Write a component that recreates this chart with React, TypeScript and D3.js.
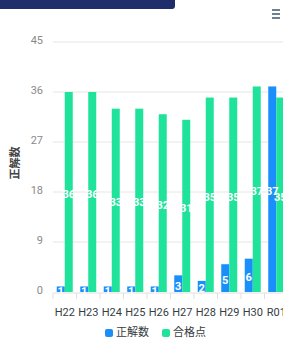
import { useEffect, useRef } from 'react';
import * as d3 from 'd3';

const categories = ['H22', 'H23', 'H24', 'H25', 'H26', 'H27', 'H28', 'H29', 'H30', 'R01'];
const correctCounts = [1, 1, 1, 1, 1, 3, 2, 5, 6, 37];
const passingScores = [36, 36, 33, 33, 32, 31, 35, 35, 37, 35];
const yTicks = [0, 9, 18, 27, 36, 45];
const seriesNames = ['正解数', '合格点'];
const seriesColors = ['#1a8ffb', '#1fe39a'];

const FONT = 'Roboto, "Noto Sans CJK JP", sans-serif';

const App = () => {
  const svgRef = useRef<SVGSVGElement>(null);

  useEffect(() => {
    if (!svgRef.current) return;
    const svg = d3.select(svgRef.current);
    svg.selectAll('*').remove();

    const width = 283;
    const height = 342;
    const plotLeft = 53;
    const step = 23.5;
    const plotTop = 42;
    const plotBottom = 292;

    svg.attr('width', width).attr('height', height).style('font-family', FONT);

    // navy box edge at the top (cropped)
    svg.append('rect')
      .attr('x', -10).attr('y', -10)
      .attr('width', 185).attr('height', 19)
      .attr('rx', 3)
      .attr('fill', '#1f2d6b');

    // menu icon
    [10, 14, 18].forEach(yy => {
      svg.append('rect')
        .attr('x', 272).attr('y', yy - 1)
        .attr('width', 8).attr('height', 2)
        .attr('fill', '#6e8192');
    });

    const x = d3.scaleBand()
      .domain(categories)
      .range([plotLeft, plotLeft + step * categories.length])
      .padding(0);

    const y = d3.scaleLinear().domain([0, 45]).range([plotBottom, plotTop]);

    // grid
    svg.append('g')
      .selectAll('line')
      .data(yTicks.filter(t => t > 0))
      .enter()
      .append('line')
      .attr('x1', plotLeft)
      .attr('x2', width + 20)
      .attr('y1', d => y(d))
      .attr('y2', d => y(d))
      .attr('stroke', '#e6e6e6')
      .attr('stroke-width', 1);

    // y labels
    svg.append('g')
      .selectAll('text')
      .data(yTicks)
      .enter()
      .append('text')
      .attr('x', 43)
      .attr('y', d => y(d) - 1)
      .attr('text-anchor', 'end')
      .attr('dominant-baseline', 'middle')
      .attr('font-size', 11)
      .attr('fill', '#8a8a8a')
      .text(d => d);

    // y title
    svg.append('text')
      .attr('transform', `translate(16,${(plotTop + plotBottom) / 2 - 4}) rotate(-90)`)
      .attr('text-anchor', 'middle')
      .attr('dominant-baseline', 'middle')
      .attr('font-size', 11)
      .attr('font-weight', 'bold')
      .attr('fill', '#444')
      .text(seriesNames[0]);

    // x axis
    const axisY = plotBottom + 1;
    svg.append('line')
      .attr('x1', plotLeft).attr('x2', width + 20)
      .attr('y1', axisY).attr('y2', axisY)
      .attr('stroke', '#e0e0e0');
    svg.append('g')
      .selectAll('line')
      .data(categories)
      .enter()
      .append('line')
      .attr('x1', d => x(d) || 0)
      .attr('x2', d => x(d) || 0)
      .attr('y1', axisY)
      .attr('y2', axisY + 6)
      .attr('stroke', '#e0e0e0');

    svg.append('g')
      .selectAll('text')
      .data(categories)
      .enter()
      .append('text')
      .attr('x', d => (x(d) || 0) + x.bandwidth() / 2)
      .attr('y', 313)
      .attr('text-anchor', 'middle')
      .attr('dominant-baseline', 'middle')
      .attr('font-size', 11)
      .attr('fill', '#373d3f')
      .text(d => d);

    // bars
    const barW = 8;
    const groupOffset = (x.bandwidth() - barW * 2) / 2;
    const series = [correctCounts, passingScores];

    series.forEach((values, si) => {
      const rows = categories.map((c, i) => ({ c, v: values[i] }));
      const bx = (c: string) => (x(c) || 0) + groupOffset + si * barW;

      svg.append('g')
        .selectAll('rect')
        .data(rows)
        .enter()
        .append('rect')
        .attr('x', d => bx(d.c))
        .attr('y', d => y(d.v))
        .attr('width', barW)
        .attr('height', d => plotBottom - y(d.v))
        .attr('fill', seriesColors[si]);
    });

    series.forEach((values, si) => {
      const rows = categories.map((c, i) => ({ c, v: values[i] }));
      const bx = (c: string) => (x(c) || 0) + groupOffset + si * barW;

      svg.append('g')
        .selectAll('text')
        .data(rows)
        .enter()
        .append('text')
        .attr('x', d => bx(d.c) + barW / 2)
        .attr('y', d => (y(d.v) + plotBottom) / 2 + 3)
        .attr('text-anchor', 'middle')
        .attr('dominant-baseline', 'middle')
        .attr('font-size', 11)
        .attr('font-weight', 'bold')
        .attr('fill', '#fff')
        .text(d => d.v);
    });

    // legend
    const legend = svg.append('g');
    const legendItems = [
      { name: seriesNames[0], color: seriesColors[0], x: 105 },
      { name: seriesNames[1], color: seriesColors[1], x: 162 },
    ];
    legendItems.forEach(item => {
      legend.append('rect')
        .attr('x', item.x).attr('y', 329)
        .attr('width', 8).attr('height', 8)
        .attr('rx', 2)
        .attr('fill', item.color);
      legend.append('text')
        .attr('x', item.x + 11)
        .attr('y', 333.5)
        .attr('dominant-baseline', 'middle')
        .attr('font-size', 11)
        .attr('fill', '#373d3f')
        .text(item.name);
    });
  }, []);

  return (
    <div style={{ position: 'absolute', left: 0, top: 0 }}>
      <svg ref={svgRef} style={{ display: 'block' }} />
    </div>
  );
};

export default App;
